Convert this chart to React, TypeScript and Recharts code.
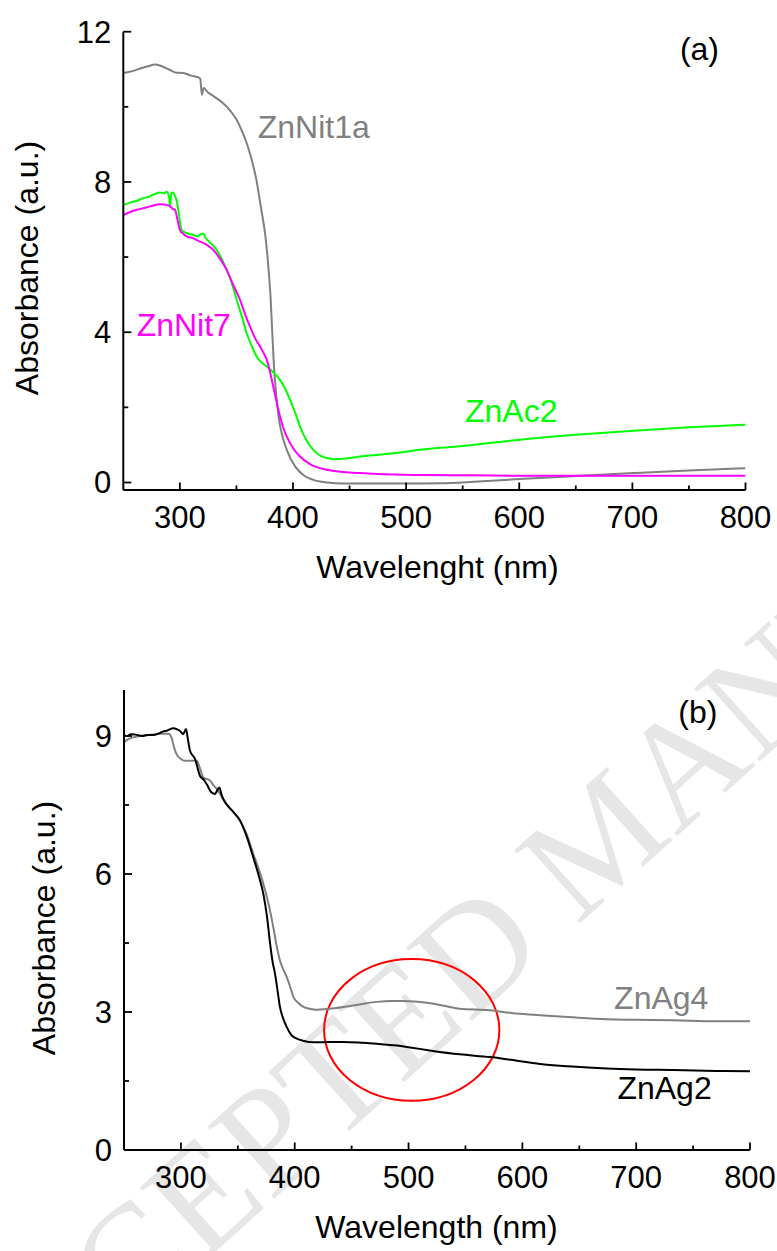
import React from 'react';
import { LineChart, Line, XAxis, YAxis, ReferenceDot, ReferenceArea } from 'recharts';

const FONT = '"Liberation Sans", Arial, Helvetica, sans-serif';

// ---------- Panel (a) ----------
const nit1aWl = [250, 258, 265, 272, 278, 284, 290, 297, 303, 310, 316, 318, 319.5, 321, 325, 330, 338, 345, 350.3, 355, 359.1, 362, 365, 368, 370.6, 373, 375.3, 378.2, 380.3, 381.7, 383.2, 385.6, 387.5, 390, 394.5, 401.8, 410, 418, 430, 444, 470, 495, 530, 560, 600, 650, 701, 750, 800];
const nit1aAbs = [10.9, 10.95, 11.02, 11.08, 11.13, 11.08, 11.0, 10.91, 10.9, 10.83, 10.79, 10.75, 10.32, 10.5, 10.38, 10.28, 10.1, 9.88, 9.65, 9.35, 9.03, 8.75, 8.41, 8.0, 7.52, 7.08, 6.64, 5.75, 4.86, 3.98, 3.09, 2.2, 1.7, 1.31, 0.87, 0.43, 0.18, 0.07, 0.0, -0.03, -0.03, -0.03, -0.02, 0.02, 0.09, 0.17, 0.25, 0.32, 0.38];

const ac2Wl = [250, 256, 262, 267.7, 272, 276, 282.4, 286, 288.4, 290.5, 291.3, 292.5, 294.2, 296, 297, 298.6, 300, 301.6, 305, 312, 316, 319, 320.7, 323, 327, 332.6, 337, 341.4, 346, 350.3, 355, 359, 364, 368, 372, 376.8, 382, 388.5, 393, 397.4, 402, 406.2, 412, 418, 425, 435.7, 445, 459.3, 480, 494.6, 512, 550, 600.7, 650, 701, 750, 770, 785, 800];
const ac2Abs = [7.39, 7.45, 7.5, 7.57, 7.6, 7.66, 7.72, 7.7, 7.74, 7.6, 7.34, 7.7, 7.72, 7.6, 7.52, 7.26, 6.95, 6.72, 6.65, 6.59, 6.55, 6.62, 6.62, 6.5, 6.38, 6.19, 5.95, 5.66, 5.3, 4.86, 4.4, 3.98, 3.6, 3.35, 3.2, 3.09, 2.95, 2.73, 2.5, 2.2, 1.85, 1.49, 1.12, 0.87, 0.7, 0.62, 0.63, 0.69, 0.75, 0.8, 0.87, 0.97, 1.14, 1.27, 1.38, 1.47, 1.5, 1.52, 1.54];

const nit7Wl = [250, 256, 262, 267.7, 274, 282.4, 288.4, 291, 294, 295.7, 297.5, 300.1, 303, 306, 312, 317.8, 322, 325, 329.6, 335, 341.4, 347, 353.2, 358, 362, 366, 370.9, 374, 376.8, 380, 382.6, 385.5, 388.5, 391.5, 394.5, 400, 406.2, 415, 429.8, 445, 459.3, 490, 512, 560, 600, 700, 800];
const nit7Abs = [7.12, 7.2, 7.26, 7.3, 7.35, 7.41, 7.39, 7.36, 7.28, 7.26, 7.05, 6.72, 6.62, 6.55, 6.5, 6.41, 6.36, 6.3, 6.19, 5.98, 5.66, 5.27, 4.86, 4.45, 4.15, 3.87, 3.62, 3.45, 3.27, 2.9, 2.55, 2.15, 1.76, 1.45, 1.22, 0.92, 0.69, 0.49, 0.34, 0.28, 0.25, 0.21, 0.2, 0.19, 0.18, 0.18, 0.18];

// ---------- Panel (b) ----------
const ag2Wl = [250, 253, 256, 260, 266, 270, 275.7, 280, 284.5, 288, 293.3, 297, 299.2, 302, 304.5, 306, 308, 312.4, 316.8, 320, 322.7, 327, 330, 331.5, 333.7, 336, 340, 346, 352, 358, 363.6, 368, 372.4, 375.5, 378.3, 380.5, 382.7, 385, 387, 390, 393, 397, 401.8, 408, 416.3, 430, 442.7, 460, 472, 490, 501.3, 520, 545, 571.6, 590, 615.6, 640, 674, 700, 732.7, 770, 800];
const ag2Abs = [9.02, 9.0, 9.04, 9.03, 9.0, 9.02, 9.02, 9.05, 9.1, 9.12, 9.17, 9.14, 9.11, 9.04, 9.15, 8.95, 8.68, 8.5, 8.13, 8.05, 7.95, 7.77, 7.74, 7.8, 7.88, 7.7, 7.52, 7.35, 7.16, 6.8, 6.36, 6.0, 5.57, 5.1, 4.5, 4.1, 3.83, 3.45, 3.11, 2.85, 2.67, 2.5, 2.42, 2.37, 2.34, 2.35, 2.35, 2.33, 2.31, 2.27, 2.23, 2.16, 2.08, 2.02, 1.96, 1.87, 1.82, 1.77, 1.75, 1.74, 1.72, 1.71];

const ag4Wl = [250, 253, 258, 265, 272, 281.6, 289, 292, 294, 296.3, 300, 303.6, 309, 313.9, 316, 319.7, 322, 325.6, 328, 331.5, 340, 346, 352, 358, 363.6, 368, 372.4, 377, 381.2, 384, 387, 390, 393, 396, 398.8, 403, 407.6, 413, 419.3, 430, 442.7, 458, 472, 485, 495.5, 505, 516, 530, 545, 571.6, 590, 615.6, 640, 674, 700, 732.7, 770, 800];
const ag4Abs = [8.86, 8.92, 8.97, 9.0, 9.02, 9.05, 9.05, 8.95, 8.75, 8.6, 8.5, 8.46, 8.46, 8.46, 8.35, 8.1, 8.07, 8.03, 7.95, 7.85, 7.52, 7.35, 7.16, 6.85, 6.44, 6.13, 5.79, 5.35, 4.84, 4.45, 4.12, 3.92, 3.76, 3.55, 3.33, 3.2, 3.11, 3.07, 3.05, 3.07, 3.11, 3.17, 3.22, 3.24, 3.24, 3.23, 3.2, 3.14, 3.07, 3.04, 2.98, 2.93, 2.89, 2.84, 2.83, 2.82, 2.8, 2.8];

// ---------- axes ----------
const xTicks = [300, 350, 400, 450, 500, 550, 600, 650, 700, 750, 800];
const yTicksA = [0, 2, 4, 6, 8, 10, 12];
const yMajorA = [0, 4, 8, 12];
const yTicksB = [0, 1.5, 3, 4.5, 6, 7.5, 9];
const yMajorB = [0, 3, 6, 9];

// ---------- annotations ----------
const labelsA = [
  { text: 'ZnNit1a', x: 368.8, y: 9.18, color: '#808080' },
  { text: 'ZnNit7', x: 261.8, y: 3.9, color: '#ff00ff' },
  { text: 'ZnAc2', x: 552, y: 1.6, color: '#00ff00' },
  { text: '(a)', x: 742, y: 11.25, color: '#000000' },
];
const labelsB = [
  { text: 'ZnAg4', x: 680.6, y: 3.07, color: '#808080' },
  { text: 'ZnAg2', x: 683.5, y: 1.1, color: '#000000' },
  { text: '(b)', x: 737, y: 9.29, color: '#000000' },
];
const circleB = { x1: 425.8, x2: 579.8, y1: 1.07, y2: 4.15 };

const zip = (xs: number[], ys: number[]) => xs.map((x, i) => ({ x, y: ys[i] }));

const XTick = (props: any) => {
  const { x, y, payload } = props;
  const v = payload.value;
  const major = v % 100 === 0;
  return (
    <g>
      <line x1={x} x2={x} y1={y} y2={y - (major ? 7.5 : 4.5)} stroke="#000" strokeWidth={1.8} />
      {major && (
        <text x={x} y={y + 38} textAnchor="middle" fontSize={31} fontFamily={FONT} fill="#000">
          {v}
        </text>
      )}
    </g>
  );
};

const makeYTick = (majors: number[]) => (props: any) => {
  const { x, y, payload } = props;
  const v = payload.value;
  const major = majors.includes(v);
  return (
    <g>
      <line x1={x} x2={x + (major ? 8 : 5)} y1={y} y2={y} stroke="#000" strokeWidth={1.8} />
      {major && (
        <text x={x - 12} y={y + 11} textAnchor="end" fontSize={31} fontFamily={FONT} fill="#000">
          {v}
        </text>
      )}
    </g>
  );
};

const TextMark = (text: string, color: string) => (p: any) => (
  <text x={p.cx} y={p.cy} fontSize={32} fontFamily={FONT} fill={color}>
    {text}
  </text>
);

const xTitle = (text: string, dx: number) => (p: any) => {
  const vb = p.viewBox;
  return (
    <text x={vb.x + vb.width / 2 + dx} y={vb.y + 88} textAnchor="middle" fontSize={32} fontFamily={FONT} fill="#000">
      {text}
    </text>
  );
};

const yTitle = (text: string, bx: number, cy: number) => () => (
  <text x={bx} y={cy} transform={`rotate(-90 ${bx} ${cy})`} textAnchor="middle" fontSize={32} fontFamily={FONT} fill="#000">
    {text}
  </text>
);

const Ellipse = (p: any) => (
  <ellipse
    cx={p.x + p.width / 2}
    cy={p.y + p.height / 2}
    rx={Math.abs(p.width) / 2}
    ry={Math.abs(p.height) / 2}
    fill="none"
    stroke="#ff0000"
    strokeWidth={2}
  />
);

export default function App() {
  return (
    <div style={{ position: 'absolute', left: 0, top: 0, width: 777, height: 1251, background: '#fff', overflow: 'hidden' }}>
      <svg width={777} height={1251} style={{ position: 'absolute', left: 0, top: 0 }}>
        <text
          x={-27}
          y={1470}
          transform="rotate(-42 -27 1470)"
          fontSize={150}
          fontFamily='"Liberation Serif", "DejaVu Serif", serif'
          fill="#e6e6e6"
        >
          ACCEPTED MANUSCRIPT
        </text>
      </svg>

      <div style={{ position: 'absolute', left: 0, top: 0 }}>
        <LineChart width={777} height={590} margin={{ top: 31.7, right: 31.5, bottom: 0, left: 23.3 }}>
          <XAxis
            type="number"
            dataKey="x"
            domain={[250, 800]}
            ticks={xTicks}
            interval={0}
            allowDataOverflow
            height={100}
            tickSize={0}
            tickMargin={0}
            tickLine={false}
            axisLine={{ stroke: '#000', strokeWidth: 2 }}
            tick={XTick}
            label={{ content: xTitle('Wavelenght (nm)', 3) }}
          />
          <YAxis
            type="number"
            domain={[-0.2, 12]}
            ticks={yTicksA}
            interval={0}
            allowDataOverflow
            width={100}
            tickSize={0}
            tickMargin={0}
            tickLine={false}
            axisLine={{ stroke: '#000', strokeWidth: 2 }}
            tick={makeYTick(yMajorA)}
            label={{ content: yTitle('Absorbance (a.u.)', 37.5, 268) }}
          />
          <Line data={zip(nit1aWl, nit1aAbs)} dataKey="y" type="monotoneX" dot={false} stroke="#808080" strokeWidth={2} isAnimationActive={false} />
          <Line data={zip(ac2Wl, ac2Abs)} dataKey="y" type="monotoneX" dot={false} stroke="#00ff00" strokeWidth={2} isAnimationActive={false} />
          <Line data={zip(nit7Wl, nit7Abs)} dataKey="y" type="monotoneX" dot={false} stroke="#ff00ff" strokeWidth={2} isAnimationActive={false} />
          {labelsA.map((l) => (
            <ReferenceDot key={l.text} x={l.x} y={l.y} r={0} shape={TextMark(l.text, l.color)} />
          ))}
        </LineChart>
      </div>

      <div style={{ position: 'absolute', left: 0, top: 600 }}>
        <LineChart width={777} height={651} margin={{ top: 90, right: 27, bottom: 0, left: 24 }}>
          <XAxis
            type="number"
            dataKey="x"
            domain={[250, 800]}
            ticks={xTicks}
            interval={0}
            allowDataOverflow
            height={101}
            tickSize={0}
            tickMargin={0}
            tickLine={false}
            axisLine={{ stroke: '#000', strokeWidth: 2 }}
            tick={XTick}
            label={{ content: xTitle('Wavelength (nm)', -0.5) }}
          />
          <YAxis
            type="number"
            domain={[0, 10]}
            ticks={yTicksB}
            interval={0}
            allowDataOverflow
            width={100}
            tickSize={0}
            tickMargin={0}
            tickLine={false}
            axisLine={{ stroke: '#000', strokeWidth: 2 }}
            tick={makeYTick(yMajorB)}
            label={{ content: yTitle('Absorbance (a.u.)', 55, 328) }}
          />
          <Line data={zip(ag4Wl, ag4Abs)} dataKey="y" type="monotoneX" dot={false} stroke="#808080" strokeWidth={2} isAnimationActive={false} />
          <Line data={zip(ag2Wl, ag2Abs)} dataKey="y" type="monotoneX" dot={false} stroke="#000000" strokeWidth={2} isAnimationActive={false} />
          <ReferenceArea x1={circleB.x1} x2={circleB.x2} y1={circleB.y1} y2={circleB.y2} shape={Ellipse} />
          {labelsB.map((l) => (
            <ReferenceDot key={l.text} x={l.x} y={l.y} r={0} shape={TextMark(l.text, l.color)} />
          ))}
        </LineChart>
      </div>
    </div>
  );
}
